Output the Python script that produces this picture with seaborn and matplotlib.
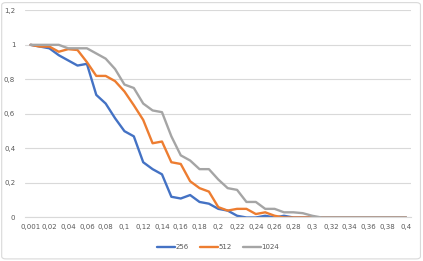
import numpy as np
import pandas as pd
import matplotlib
matplotlib.use("Agg")
import matplotlib.pyplot as plt
import seaborn as sns
from matplotlib.patches import FancyBboxPatch

# ---- data ----
x_values = [0.001] + [round(0.01 * k, 2) for k in range(1, 41)]
x_labels = ["0,001"] + [("%g" % v).replace(".", ",") for v in x_values[1:]]

s256 = [1.0, 0.99, 0.98, 0.94, 0.91, 0.88, 0.89, 0.71, 0.66, 0.575,
        0.50, 0.47, 0.32, 0.28, 0.25, 0.12, 0.11, 0.13, 0.09, 0.08,
        0.05, 0.04, 0.01, 0.0, 0.0, 0.01, 0.0, 0.01, 0.0, 0.0,
        0.0, 0.0, 0.0, 0.0, 0.0, 0.0, 0.0, 0.0, 0.0, 0.0, 0.0]
s512 = [1.0, 0.99, 0.99, 0.96, 0.975, 0.97, 0.90, 0.82, 0.82, 0.79,
        0.73, 0.65, 0.565, 0.43, 0.44, 0.32, 0.31, 0.21, 0.17, 0.15,
        0.06, 0.04, 0.05, 0.05, 0.02, 0.03, 0.01, 0.0, 0.0, 0.0,
        0.0, 0.0, 0.0, 0.0, 0.0, 0.0, 0.0, 0.0, 0.0, 0.0, 0.0]
s1024 = [1.0, 1.0, 1.0, 1.0, 0.98, 0.98, 0.98, 0.95, 0.92, 0.86,
         0.77, 0.75, 0.66, 0.62, 0.61, 0.47, 0.36, 0.33, 0.28, 0.28,
         0.22, 0.17, 0.16, 0.09, 0.09, 0.05, 0.05, 0.03, 0.03, 0.025,
         0.01, 0.0, 0.0, 0.0, 0.0, 0.0, 0.0, 0.0, 0.0, 0.0, 0.0]
series_names = ["256", "512", "1024"]
series_values = [s256, s512, s1024]
y_ticks = [0, 0.2, 0.4, 0.6, 0.8, 1.0, 1.2]
y_labels = ["0", "0,2", "0,4", "0,6", "0,8", "1", "1,2"]

colors = ["#4472C4", "#ED7D31", "#A5A5A5"]

rows = []
for name, vals in zip(series_names, series_values):
    for i, v in enumerate(vals):
        rows.append({"idx": i, "value": v, "series": name})
df = pd.DataFrame(rows)

sns.set_theme(style="white")
plt.rcParams["font.family"] = ["DejaVu Sans"]

fig = plt.figure(figsize=(4.23, 2.61), dpi=100)
ax = fig.add_axes([0.059, 0.1667, 0.913, 0.7938])

sns.lineplot(data=df, x="idx", y="value", hue="series", hue_order=series_names,
             palette=colors, linewidth=1.7, ax=ax, legend=True, sort=False)

ax.set_xlim(-0.6, len(x_values) - 0.45)
ax.set_ylim(0, 1.2)
ax.set_yticks(y_ticks)
ax.set_yticklabels(y_labels)
ax.set_xticks(range(0, len(x_values), 2))
ax.set_xticklabels(x_labels[::2])
ax.set_xlabel("")
ax.set_ylabel("")
ax.tick_params(axis="both", length=0, labelsize=5, labelcolor="#595959")
ax.tick_params(axis="y", pad=7)
ax.tick_params(axis="x", pad=5)
ax.grid(axis="y", color="#D9D9D9", linewidth=0.8)
ax.set_axisbelow(True)
for side in ["top", "right", "left"]:
    ax.spines[side].set_visible(False)
ax.spines["bottom"].set_color("#D9D9D9")
ax.spines["bottom"].set_linewidth(0.8)

handles, labels = ax.get_legend_handles_labels()
ax.legend(handles, labels, loc="upper center", bbox_to_anchor=(0.5, -0.1),
          ncol=3, frameon=False, fontsize=5, handlelength=2.6,
          handletextpad=0.1, columnspacing=1.6, labelcolor="#595959")

border = FancyBboxPatch((0.004, 0.008), 0.99, 0.982,
                        boxstyle="round,pad=0,rounding_size=0.01",
                        transform=fig.transFigure, fill=False,
                        edgecolor="#D9D9D9", linewidth=0.8)
fig.patches.append(border)

fig.savefig("out.png", dpi=100)
